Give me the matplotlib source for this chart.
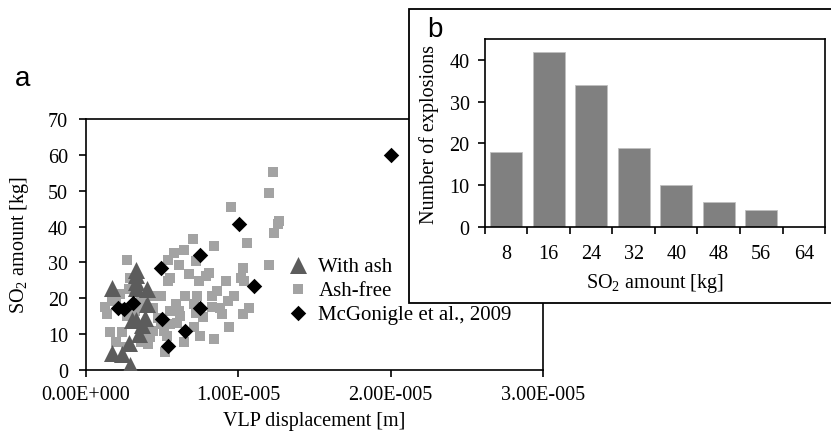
import matplotlib
matplotlib.use("Agg")
import matplotlib.pyplot as plt
from matplotlib.patches import Rectangle

plt.rcParams.update({
    "font.family": ["Liberation Serif", "DejaVu Serif"],
    "font.size": 14.5,
    "mathtext.fontset": "custom",
    "mathtext.rm": "Liberation Serif",
    "axes.linewidth": 1.2,
    "xtick.direction": "out",
    "ytick.direction": "out",
    "xtick.major.size": 5,
    "ytick.major.size": 5,
    "xtick.major.width": 1.2,
    "ytick.major.width": 1.2,
})

# ---- (a) scatter data: VLP displacement (1e-6 m) vs SO2 amount (kg) ----
ash_x = [3.3, 3.3, 3.3, 1.7, 3.3, 4.0, 4.0, 3.3, 3.9, 3.7, 3.0, 3.45, 2.8, 1.7, 2.35, 2.86]
ash_y = [28, 26.5, 24.5, 23, 23, 22.5, 18.5, 14, 14.5, 12.5, 14, 10, 7.5, 4.8, 4.5, 1.5]

free_x = [12.3, 12.0, 12.7, 12.6, 12.35, 12.0, 9.5, 10.6, 10.3, 10.2, 10.4, 10.7, 10.3,
          9.7, 9.3, 8.8, 8.95, 9.4, 8.4, 8.4, 8.1, 7.85, 9.2, 8.6, 8.3, 8.3, 7.7, 7.5,
          7.3, 7.4, 6.75, 7.0, 6.4, 5.75, 5.4, 6.1, 7.2, 5.5, 5.4, 6.5, 5.9, 6.1, 5.5,
          6.2, 7.1, 7.2, 7.1, 6.4, 5.98, 5.5, 5.1, 5.3, 5.2, 4.9, 4.4, 4.4, 4.7, 4.9,
          4.4, 4.2, 3.9, 4.0, 2.7, 2.9, 2.8, 2.2, 2.0, 1.7, 1.25, 1.36, 2.5, 2.7, 1.6,
          2.35, 2.0, 2.6, 3.6, 3.45, 3.2, 3.7, 3.6, 4.1]
free_y = [55.2, 49.4, 41.5, 40.6, 38.2, 29.4, 45.4, 35.5, 28.5, 25.7, 24.8, 17.4, 15.6,
          20.6, 19.3, 17.4, 15.6, 11.9, 8.6, 34.5, 27.1, 26.2, 24.8, 22.0, 20.6, 17.6,
          14.8, 9.5, 20.6, 24.8, 26.7, 36.4, 33.6, 32.7, 30.8, 29.4, 30.4, 25.7, 24.8,
          20.6, 18.3, 16.5, 16.5, 15.1, 18.3, 16.0, 11.9, 7.7, 13.2, 12.8, 10.9, 9.5,
          4.9, 20.6, 20.6, 17.4, 14.6, 12.8, 10.9, 9.1, 7.7, 10.9, 30.6, 25.7, 22.5,
          21.1, 19.4, 19.3, 17.6, 15.6, 17.4, 15.1, 10.5, 10.5, 7.7, 6.3, 20.2, 17.4,
          16.5, 9.1, 7.7, 7.2]

mcg_x = [20.0, 10.05, 7.5, 4.9, 11.0, 7.5, 3.1, 2.1, 2.5, 5.0, 6.5, 5.4]
mcg_y = [60, 40.8, 32.2, 28.5, 23.4, 17.4, 18.8, 17.4, 16.9, 14.2, 10.9, 6.8]

a_xticks = [0, 1e-5, 2e-5, 3e-5]
a_xticklabels = ["0.00E+000", "1.00E-005", "2.00E-005", "3.00E-005"]
a_yticks = [0, 10, 20, 30, 40, 50, 60, 70]

# ---- (b) histogram of SO2 amount ----
bins = ["8", "16", "24", "32", "40", "48", "56", "64"]
counts = [18, 42, 34, 19, 10, 6, 4, 0]
b_yticks = [0, 10, 20, 30, 40]

fig = plt.figure(figsize=(8.31, 4.39), dpi=100)

# ---- panel a ----
ax = fig.add_axes([0.1035, 0.1549, 0.550, 0.5718])
um = 1e-6
ax.scatter([v * um for v in free_x], free_y, marker="s", s=62, color="#a3a3a3",
           linewidths=0, label="Ash-free", zorder=2)
ax.scatter([v * um for v in ash_x], ash_y, marker="^", s=150, color="#5c5c5c",
           linewidths=0, label="With ash", zorder=3)
ax.scatter([v * um for v in mcg_x], mcg_y, marker="D", s=62, color="black",
           linewidths=0, label="McGonigle et al., 2009", zorder=4)
ax.set_xlim(0, 3e-5)
ax.set_ylim(0, 70)
ax.set_xticks(a_xticks)
ax.set_xticklabels(a_xticklabels)
ax.set_yticks(a_yticks)
ax.tick_params(axis="x", pad=6)
ax.tick_params(axis="y", pad=8)
ax.set_xlabel("VLP displacement [m]", labelpad=5)
ax.set_ylabel("SO$_2$ amount [kg]")
ax.yaxis.set_label_coords(-0.12, 0.5)

h, l = ax.get_legend_handles_labels()
order = [1, 0, 2]
leg = ax.legend([h[i] for i in order], [l[i] for i in order], loc="upper left",
                bbox_to_anchor=(0.44, 0.454), frameon=False, borderpad=0,
                borderaxespad=0, handlelength=1.0, handletextpad=0.5,
                labelspacing=0.22, fontsize=15)

fig.text(0.018, 0.805, "a", family="Liberation Sans", fontsize=20)

# ---- panel b (inset) ----
frame = Rectangle((0.4922, 0.3075), 0.6, 0.6697, transform=fig.transFigure,
                  facecolor="white", edgecolor="black", linewidth=1.3, zorder=5)
fig.add_artist(frame)

bx = fig.add_axes([0.5836, 0.4806, 0.4092, 0.4283])
bx.set_zorder(6)
pos = list(range(len(bins)))
bx.bar(pos, counts, width=0.75, color="#808080", edgecolor="#c0c0c0", linewidth=0.6)
bx.set_xlim(-0.5, len(bins) - 0.5)
bx.set_ylim(0, 45)
bx.set_yticks(b_yticks)
bx.set_xticks(pos)
bx.set_xticklabels(bins)
bx.tick_params(axis="x", length=0, pad=12)
bx.tick_params(axis="y", pad=6)
bx.set_xticks([p - 0.5 for p in range(len(bins) + 1)], minor=True)
bx.tick_params(axis="x", which="minor", length=5, width=1.2, direction="out")
bx.set_xlabel("SO$_2$ amount [kg]", labelpad=6)
bx.set_ylabel("Number of explosions")
bx.yaxis.set_label_coords(-0.135, 0.5)

fig.text(0.5146, 0.916, "b", family="Liberation Sans", fontsize=20, zorder=7)

fig.savefig("out.png", dpi=100)
